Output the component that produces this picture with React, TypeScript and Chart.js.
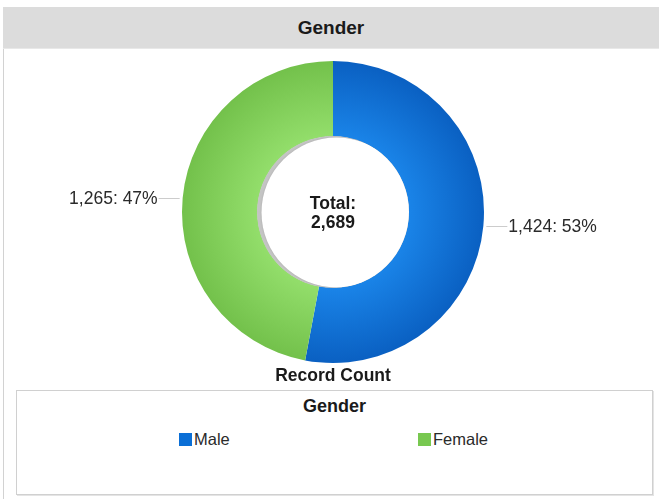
import React, { useEffect, useRef } from "react";
import { Chart, registerables } from "chart.js";
Chart.register(...registerables);

const chartTitle = "Gender";
const legendTitle = "Gender";
const measureLabel = "Record Count";
const categories = ["Male", "Female"];
const counts = [1424, 1265];
const percents = [53, 47];
const legendColors = ["#0b6fd6", "#78c850"];
const innerTones = ["#1a84e8", "#93de6b"];
const outerTones = ["#0a60c2", "#73c14b"];

const FONT = '"Liberation Sans", Arial, Helvetica, sans-serif';
const fmt = (n: number) => n.toLocaleString("en-US");

export default function App() {
  const canvasRef = useRef<HTMLCanvasElement | null>(null);

  useEffect(() => {
    const canvas = canvasRef.current;
    if (!canvas) return;
    const total = counts.reduce((a, b) => a + b, 0);

    const overlay = {
      id: "overlay",
      afterDatasetsDraw(chart: any) {
        const ctx = chart.ctx as CanvasRenderingContext2D;
        const meta = chart.getDatasetMeta(0);
        const arc0 = meta.data[0] as any;
        if (!arc0) return;
        const cx = arc0.x;
        const cy = arc0.y;
        const innerR = arc0.innerRadius;

        // inner shadow in the hole
        ctx.save();
        ctx.beginPath();
        ctx.arc(cx, cy, innerR + 0.5, 0, Math.PI * 2);
        ctx.clip();
        ctx.fillStyle = "#c4c4c4";
        ctx.beginPath();
        ctx.arc(cx, cy, innerR + 1, 0, Math.PI * 2);
        ctx.fill();
        ctx.fillStyle = "#ffffff";
        ctx.shadowColor = "rgba(0,0,0,0.15)";
        ctx.shadowBlur = 2;
        ctx.beginPath();
        ctx.arc(cx + 3.5, cy + 0.5, innerR - 0.5, 0, Math.PI * 2);
        ctx.fill();
        ctx.restore();

        // center text
        ctx.save();
        ctx.fillStyle = "#1a1a1a";
        ctx.font = `bold 17.5px ${FONT}`;
        ctx.textAlign = "center";
        ctx.textBaseline = "middle";
        ctx.fillText("Total:", cx, cy - 8);
        ctx.fillText(fmt(total), cx, cy + 11);
        ctx.restore();

        // slice labels with leader lines
        meta.data.forEach((el: any, i: number) => {
          const mid = (el.startAngle + el.endAngle) / 2;
          const r = el.outerRadius;
          const px = el.x + Math.cos(mid) * r;
          const py = el.y + Math.sin(mid) * r;
          const right = Math.cos(mid) >= 0;
          const dir = right ? 1 : -1;
          ctx.save();
          ctx.strokeStyle = "#cccccc";
          ctx.lineWidth = 1;
          ctx.beginPath();
          ctx.moveTo(px + dir * 3, Math.round(py) + 0.5);
          ctx.lineTo(px + dir * 24, Math.round(py) + 0.5);
          ctx.stroke();
          ctx.fillStyle = "#2a2a2a";
          ctx.font = `17.5px ${FONT}`;
          ctx.textAlign = right ? "left" : "right";
          ctx.textBaseline = "middle";
          ctx.fillText(`${fmt(counts[i])}: ${percents[i]}%`, px + dir * 25, py + 1);
          ctx.restore();
        });

        // measure label
        ctx.save();
        ctx.fillStyle = "#1a1a1a";
        ctx.font = `bold 17.5px ${FONT}`;
        ctx.textAlign = "center";
        ctx.textBaseline = "middle";
        ctx.fillText(measureLabel, cx, 328);
        ctx.restore();
      },
    };

    const chart = new Chart(canvas, {
      type: "doughnut",
      data: {
        labels: categories,
        datasets: [
          {
            data: counts,
            borderWidth: 0,
            backgroundColor: (c: any) => {
              const ch = c.chart;
              const a = ch.chartArea;
              const i = c.dataIndex ?? 0;
              if (!a) return legendColors[i];
              const cx = (a.left + a.right) / 2;
              const cy = (a.top + a.bottom) / 2;
              const r = Math.min(a.right - a.left, a.bottom - a.top) / 2;
              const g = ch.ctx.createRadialGradient(cx, cy, r * 0.5, cx, cy, r);
              g.addColorStop(0, innerTones[i]);
              g.addColorStop(1, outerTones[i]);
              return g;
            },
          },
        ],
      },
      options: {
        responsive: false,
        animation: false,
        cutout: "50%",
        layout: { padding: { top: 13, bottom: 25, left: 0, right: 0 } },
        plugins: {
          legend: { display: false },
          tooltip: { enabled: false },
        },
      },
      plugins: [overlay],
    } as any);

    return () => chart.destroy();
  }, []);

  return (
    <div
      style={{
        position: "fixed",
        left: 0,
        top: 0,
        width: 659,
        height: 499,
        background: "#ffffff",
        overflow: "hidden",
        fontFamily: FONT,
      }}
    >
      <div
        style={{
          position: "absolute",
          left: 3,
          top: 7,
          width: 1,
          height: 492,
          background: "#d2d2d2",
        }}
      />
      <div
        style={{
          position: "absolute",
          left: 3,
          top: 7,
          width: 656,
          height: 41,
          background: "#dcdcdc",
          display: "flex",
          alignItems: "center",
          justifyContent: "center",
          fontWeight: "bold",
          fontSize: 19,
          color: "#1a1a1a",
          borderBottom: "1px solid #e8e8e8",
        }}
      >
        {chartTitle}
      </div>
      <canvas
        ref={canvasRef}
        width={652}
        height={340}
        style={{ position: "absolute", left: 7, top: 48, width: 652, height: 340 }}
      />
      <div
        style={{
          position: "absolute",
          left: 16,
          top: 390,
          width: 635,
          height: 103,
          border: "1px solid #d0d0d0",
          boxShadow: "1px 1px 0 #e4e4e4",
          background: "#ffffff",
        }}
      >
        <div
          style={{
            position: "absolute",
            left: 0,
            right: 0,
            top: 5,
            textAlign: "center",
            fontWeight: "bold",
            fontSize: 18,
            color: "#1a1a1a",
          }}
        >
          {legendTitle}
        </div>
        <div
          style={{
            position: "absolute",
            left: 162,
            top: 39,
            display: "flex",
          }}
        >
          {categories.map((c, i) => (
            <div
              key={c}
              style={{ width: 239, display: "flex", alignItems: "center" }}
            >
              <span
                style={{
                  display: "inline-block",
                  width: 13,
                  height: 13,
                  background: legendColors[i],
                  marginRight: 2,
                }}
              />
              <span style={{ fontSize: 16.5, color: "#2a2a2a" }}>{c}</span>
            </div>
          ))}
        </div>
      </div>
    </div>
  );
}
